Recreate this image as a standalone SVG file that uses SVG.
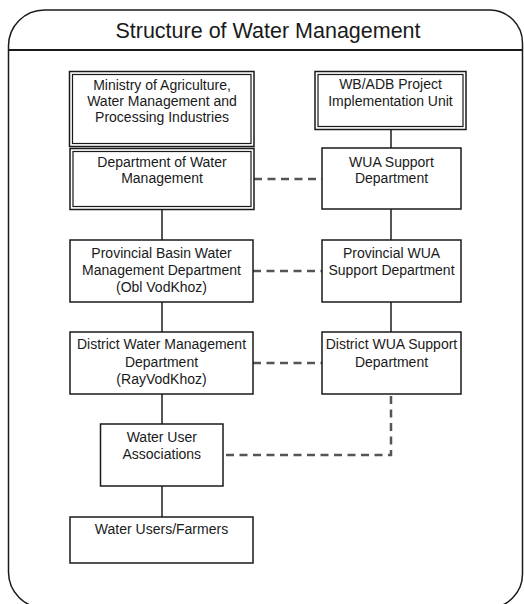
<svg xmlns="http://www.w3.org/2000/svg" width="524" height="604" viewBox="0 0 524 604">
  <style>
    .frame { fill: #ffffff; stroke: #1a1a1a; stroke-width: 1.5; }
    .box { fill: #ffffff; stroke: #1a1a1a; stroke-width: 1.5; }
    .inner { fill: none; stroke: #1a1a1a; stroke-width: 1.2; }
    .label { font-family: "Liberation Sans", Arial, sans-serif; font-size: 14px; fill: #1a1a1a; text-anchor: middle; }
    .title { font-family: "Liberation Sans", Arial, sans-serif; font-size: 21.5px; fill: #1a1a1a; text-anchor: middle; }
    .solid { fill: none; stroke: #555555; stroke-width: 2; }
    .dashed { fill: none; stroke: #555555; stroke-width: 2.5; stroke-dasharray: 8 5.5; }
  </style>

  <!-- outer frame with header band -->
  <g id="frame">
    <path class="frame" d="M 8.5 46 A 36 36 0 0 1 44.5 10 L 490 10 A 33 33 0 0 1 522.5 43 L 522.5 574 A 34 34 0 0 1 488.5 608 L 44.5 608 A 36 36 0 0 1 8.5 572 Z"/>
    <line x1="8.5" y1="50" x2="522.5" y2="50" stroke="#1a1a1a" stroke-width="1.8"/>
    <text class="title" x="268" y="37.5">Structure of Water Management</text>
  </g>

  <!-- connectors -->
  <g id="connectors">
    <line class="solid" x1="162" y1="209.5" x2="162" y2="240"/>
    <line class="solid" x1="162" y1="302" x2="162" y2="332"/>
    <line class="solid" x1="162" y1="394" x2="162" y2="424"/>
    <line class="solid" x1="162" y1="486" x2="162" y2="517"/>
    <line class="solid" x1="391" y1="129.5" x2="391" y2="148"/>
    <line class="solid" x1="391" y1="209" x2="391" y2="240"/>
    <line class="solid" x1="391" y1="302" x2="391" y2="332"/>
    <line class="dashed" x1="254" y1="179" x2="322" y2="179"/>
    <line class="dashed" x1="253" y1="271" x2="322" y2="271"/>
    <line class="dashed" x1="253" y1="363" x2="322" y2="363"/>
    <path class="dashed" d="M 391 396 L 391 455 L 223 455"/>
  </g>

  <g id="ministry">
    <rect class="box" x="69.5" y="71.5" width="184.5" height="75"/>
    <rect class="inner" x="72.5" y="74.5" width="178.5" height="69"/>
    <text class="label" x="162" y="90">Ministry of Agriculture,</text>
    <text class="label" x="162" y="106">Water Management and</text>
    <text class="label" x="162" y="122">Processing Industries</text>
  </g>

  <g id="dept-water-management">
    <rect class="box" x="70" y="148.5" width="184" height="61"/>
    <rect class="inner" x="73" y="151.5" width="178" height="55"/>
    <text class="label" x="162" y="166.7">Department of Water</text>
    <text class="label" x="162" y="182.7">Management</text>
  </g>

  <g id="pmu">
    <rect class="box" x="315" y="71.5" width="151" height="58"/>
    <rect class="inner" x="318" y="74.5" width="145" height="52"/>
    <text class="label" x="390.5" y="88.5">WB/ADB Project</text>
    <text class="label" x="390.5" y="105.5">Implementation Unit</text>
  </g>

  <g id="wua-support">
    <rect class="box" x="322" y="148" width="139" height="61"/>
    <text class="label" x="391.5" y="166.7">WUA Support</text>
    <text class="label" x="391.5" y="182.7">Department</text>
  </g>

  <g id="provincial-basin">
    <rect class="box" x="70" y="240" width="183" height="62"/>
    <text class="label" x="161.5" y="258.3">Provincial Basin Water</text>
    <text class="label" x="161.5" y="275">Management Department</text>
    <text class="label" x="161.5" y="291.7">(Obl VodKhoz)</text>
  </g>

  <g id="provincial-wua">
    <rect class="box" x="322" y="240" width="139" height="62"/>
    <text class="label" x="391.5" y="258.3">Provincial WUA</text>
    <text class="label" x="391.5" y="275">Support Department</text>
  </g>

  <g id="district-water">
    <rect class="box" x="70" y="332" width="183" height="62"/>
    <text class="label" x="161.5" y="349.3">District Water Management</text>
    <text class="label" x="161.5" y="366.5">Department</text>
    <text class="label" x="161.5" y="383.5">(RayVodKhoz)</text>
  </g>

  <g id="district-wua">
    <rect class="box" x="322" y="332" width="139" height="62"/>
    <text class="label" x="391.5" y="349.3">District WUA Support</text>
    <text class="label" x="391.5" y="366.5">Department</text>
  </g>

  <g id="wua">
    <rect class="box" x="100.5" y="424" width="122.5" height="62"/>
    <text class="label" x="161.8" y="441.7">Water User</text>
    <text class="label" x="161.8" y="459.3">Associations</text>
  </g>

  <g id="farmers">
    <rect class="box" x="70" y="517" width="183" height="46"/>
    <text class="label" x="161.5" y="534">Water Users/Farmers</text>
  </g>
</svg>
